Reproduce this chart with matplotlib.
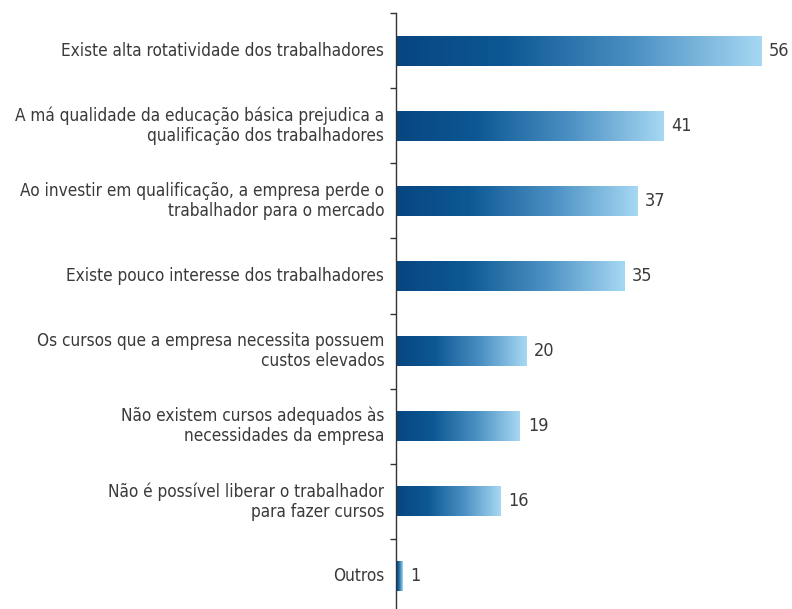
import matplotlib
matplotlib.use("Agg")
import matplotlib.pyplot as plt
import numpy as np
from matplotlib.colors import LinearSegmentedColormap

categories = [
    "Existe alta rotatividade dos trabalhadores",
    "A má qualidade da educação básica prejudica a\nqualificação dos trabalhadores",
    "Ao investir em qualificação, a empresa perde o\ntrabalhador para o mercado",
    "Existe pouco interesse dos trabalhadores",
    "Os cursos que a empresa necessita possuem\ncustos elevados",
    "Não existem cursos adequados às\nnecessidades da empresa",
    "Não é possível liberar o trabalhador\npara fazer cursos",
    "Outros",
]
values = [56, 41, 37, 35, 20, 19, 16, 1]

FONT = ["DejaVu Sans"]
TEXT_COLOR = "#3a3a3a"

cmap = LinearSegmentedColormap.from_list(
    "bar_gradient",
    [(0.0, "#074680"), (0.3, "#0d5894"), (0.65, "#4b90c3"), (1.0, "#a6d8f3")],
)

fig = plt.figure(figsize=(7.92, 6.09), dpi=100)
ax = fig.add_axes([0.5, -5 / 609, 0.5, 601 / 609])

n = len(categories)
ypos = np.arange(n)
bar_h = 0.4
bars = ax.barh(ypos, values, height=bar_h, color="none", edgecolor="none")

gradient = np.linspace(0, 1, 256).reshape(1, -1)
for rect, v, y in zip(bars, values, ypos):
    im = ax.imshow(
        gradient,
        cmap=cmap,
        aspect="auto",
        extent=[0, v, y + bar_h / 2, y - bar_h / 2],
        interpolation="bilinear",
        zorder=2,
    )
    im.set_clip_path(rect)
    ax.text(v + 1.2, y, f"{v}", va="center", ha="left",
            fontsize=13, fontstretch="condensed", color=TEXT_COLOR, family=FONT)

ax.set_xlim(0, 60.7)
ax.set_ylim(n - 0.5, -0.5)

for side in ("top", "right", "bottom"):
    ax.spines[side].set_visible(False)
ax.spines["left"].set_color("#333333")
ax.spines["left"].set_linewidth(1.0)

ax.set_xticks([])
ax.set_yticks(np.arange(n + 1) - 0.5)
ax.set_yticklabels([])
ax.tick_params(axis="y", length=4, width=1.0, color="#333333", direction="out")

for y, label in zip(ypos, categories):
    ax.text(-1.8, y, label, ha="right", va="center", multialignment="right",
            fontsize=12.3, fontstretch="condensed", color=TEXT_COLOR, family=FONT,
            linespacing=1.15, clip_on=False)

fig.savefig("out.png", dpi=100, facecolor="white")
